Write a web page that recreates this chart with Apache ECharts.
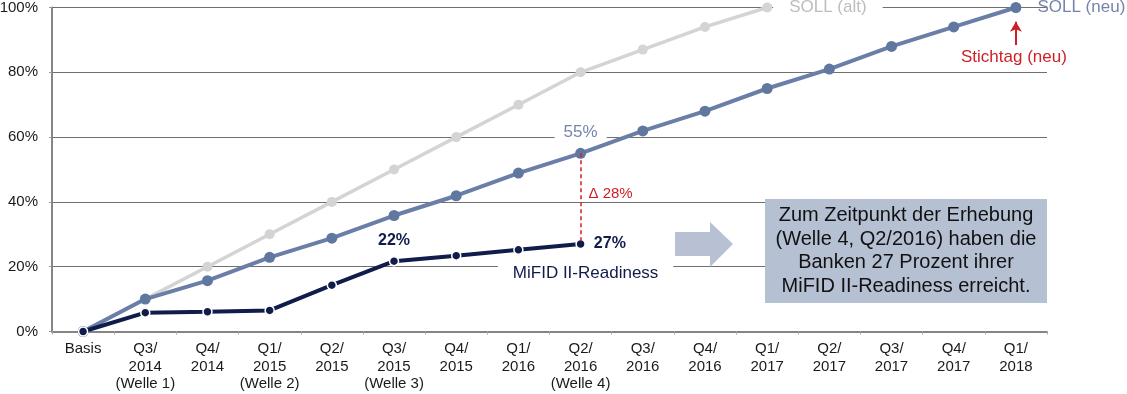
<!DOCTYPE html>
<html>
<head>
<meta charset="utf-8">
<script src="https://cdn.jsdelivr.net/npm/echarts@6/dist/echarts.min.js"></script>
<style>
html,body{margin:0;padding:0;background:#fff;}
#chart{width:1127px;height:394px;}
</style>
</head>
<body>
<div id="chart"></div>
<script>
const categories = ['Basis','Q3/\n2014\n(Welle 1)','Q4/\n2014','Q1/\n2015\n(Welle 2)','Q2/\n2015','Q3/\n2015\n(Welle 3)','Q4/\n2015','Q1/\n2016','Q2/\n2016\n(Welle 4)','Q3/\n2016','Q4/\n2016','Q1/\n2017','Q2/\n2017','Q3/\n2017','Q4/\n2017','Q1/\n2018'];
const sollAlt = [0,10,20,30,40,50,60,70,80,87,94,100];
const sollNeu = [0,10,15.7,22.9,28.8,35.8,41.9,48.9,55,61.9,68,75,81,88,94,100];
const readiness = [0,5.8,6.1,6.5,14.3,21.7,23.4,25.2,27];
const yTicks = [0,20,40,60,80,100];
const stichtagArrow = [88.4, 95.6];
const stichtagLabelY = 84.6;
const deltaLabelY = 42.4;

const FONT = '"Liberation Sans", Arial, sans-serif';
const cAlt = '#d4d4d4', cNeu = '#6a7fa7', cNavy = '#101c4a', cRed = '#cf1f26';

const altData = sollAlt.map((v,i)=> i===sollAlt.length-1 ? {value:v,label:{show:true,position:'right',distance:1,formatter:'SOLL (alt)',color:'#bdbdbd',fontSize:17,fontFamily:FONT,backgroundColor:'#fff',padding:[2,16,2,16]}} : v);
const neuData = sollNeu.map((v,i)=>{
  if(i===8) return {value:v,label:{show:true,position:'top',distance:7,formatter:'55%',color:'#7586ab',fontSize:17,fontFamily:FONT,backgroundColor:'#fff',padding:[0,9,0,9]}};
  if(i===sollNeu.length-1) return {value:v,label:{show:true,position:'right',distance:16,formatter:'SOLL (neu)',color:'#7585a8',fontSize:17,fontFamily:FONT}};
  return v;
});
const navyData = readiness.map((v,i)=>{
  if(i===5) return {value:v,label:{show:true,position:'top',distance:7,formatter:'22%',color:cNavy,fontWeight:'bold',fontSize:16,fontFamily:FONT}};
  if(i===8) return {value:v,label:{show:true,position:'right',distance:8,formatter:'27%',color:cNavy,fontWeight:'bold',fontSize:16,fontFamily:FONT}};
  return v;
});

const chart = echarts.init(document.getElementById('chart'));
chart.setOption({
  animation:false,
  backgroundColor:'#fff',
  grid:{left:52,right:80,top:7.5,bottom:62.5,outerBoundsMode:'none',containLabel:false},
  xAxis:{
    type:'category',data:categories,boundaryGap:true,
    axisLine:{lineStyle:{color:'#858585',width:2}},
    axisTick:{show:true,length:3,lineStyle:{color:'#aaa'}},
    axisLabel:{color:'#1a1a1a',fontSize:15,fontFamily:FONT,lineHeight:17.5,margin:9,interval:0}
  },
  yAxis:{
    type:'value',min:0,max:100,interval:20,
    axisLine:{show:true,lineStyle:{color:'#858585',width:2}},
    axisTick:{show:true,length:3,lineStyle:{color:'#999'}},
    axisLabel:{formatter:'{value}%',color:'#1a1a1a',fontSize:15,fontFamily:FONT,margin:14},
    splitLine:{lineStyle:{color:'#707070',width:1.2}}
  },
  series:[
    {name:'SOLL (alt)',type:'line',data:altData,symbol:'circle',symbolSize:10,
     lineStyle:{color:cAlt,width:3.5},itemStyle:{color:cAlt},z:2},
    {name:'SOLL (neu)',type:'line',data:neuData,symbol:'circle',symbolSize:11,
     lineStyle:{color:cNeu,width:4},itemStyle:{color:'#6077a0'},z:3,
     markLine:{silent:true,symbol:'none',label:{show:false},
       lineStyle:{color:cRed,type:[4,3],width:1.5},
       data:[[{coord:[categories[8],sollNeu[8]]},{coord:[categories[8],readiness[8]]}]]}},
    {name:'MiFID II-Readiness',type:'line',data:navyData,symbol:'circle',symbolSize:9,
     lineStyle:{color:cNavy,width:4},itemStyle:{color:cNavy,borderColor:'#fff',borderWidth:1.5},z:4,
     markPoint:{silent:true,symbol:'circle',symbolSize:0,
       data:[
        {coord:[categories[8],readiness[8]],label:{show:true,position:'inside',offset:[5,29],formatter:'MiFID II-Readiness',color:cNavy,fontSize:17,fontFamily:FONT,backgroundColor:'#fff',padding:[1,15,1,15]}},
        {coord:[categories[8],deltaLabelY],label:{show:true,position:'inside',offset:[30,0],formatter:'Δ 28%',color:cRed,fontSize:15,fontFamily:FONT}},
        {coord:[categories[15],stichtagLabelY],label:{show:true,position:'inside',offset:[-2,0],formatter:'Stichtag (neu)',color:cRed,fontSize:17,fontFamily:FONT}}
       ]},
     markLine:{silent:true,symbol:['none','arrow'],symbolSize:[9,10],label:{show:false},
       lineStyle:{color:cRed,type:'solid',width:2},
       data:[[{coord:[categories[15],stichtagArrow[0]]},{coord:[categories[15],stichtagArrow[1]]}]]}}
  ],
  graphic:[
    {type:'polygon',z:100,shape:{points:[[675,232],[710,232],[710,222],[733,244],[710,267],[710,256],[675,256]]},style:{fill:'#b7c1d3'}},
    {type:'rect',z:100,shape:{x:765,y:199,width:282,height:104},style:{fill:'#b5c0d2'}},
    {type:'text',z:101,x:906,y:251,style:{text:'Zum Zeitpunkt der Erhebung\n(Welle 4, Q2/2016) haben die\nBanken 27 Prozent ihrer\nMiFID II-Readiness erreicht.',
      fill:'#111',font:'20px '+FONT,lineHeight:23.5,align:'center',verticalAlign:'middle'}}
  ]
});
</script>
</body>
</html>
